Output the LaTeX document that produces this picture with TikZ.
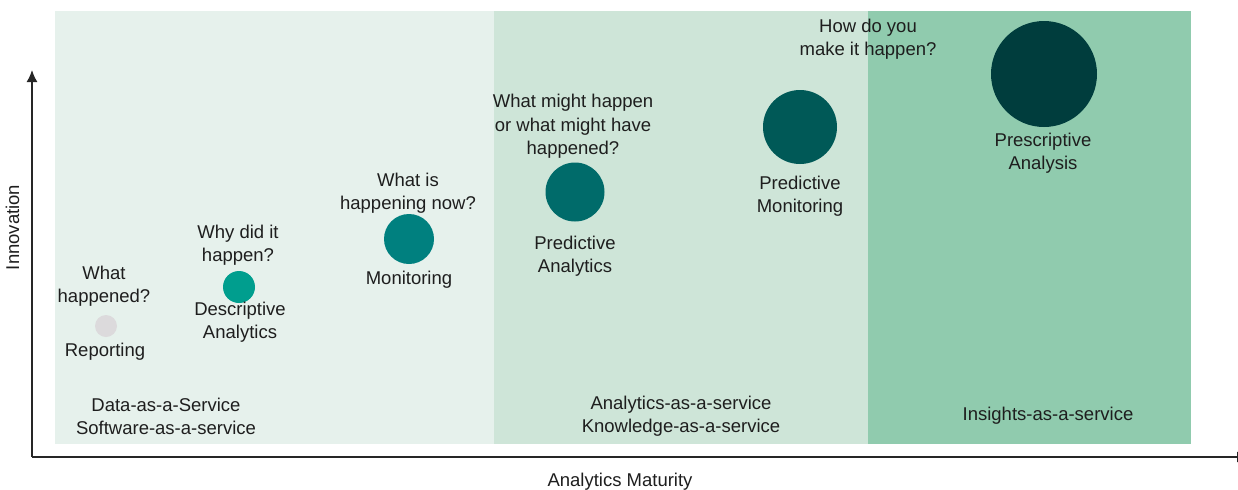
\documentclass[tikz,border=0pt]{standalone}
\usepackage{fontspec}
\setmainfont{Liberation Sans}
\usetikzlibrary{arrows.meta}
\usepackage{xcolor}

\definecolor{bandA}{RGB}{230,241,236}
\definecolor{bandB}{RGB}{206,229,216}
\definecolor{bandC}{RGB}{144,203,174}
\definecolor{dotA}{RGB}{220,218,220}
\definecolor{dotB}{RGB}{0,158,142}
\definecolor{dotC}{RGB}{0,128,127}
\definecolor{dotD}{RGB}{0,107,106}
\definecolor{dotE}{RGB}{0,89,87}
\definecolor{dotF}{RGB}{0,61,61}
\definecolor{txt}{RGB}{30,30,30}

\tikzset{
  bubble/.style={circle, inner sep=0pt},
  lbl/.style={align=center, text=txt, inner sep=0pt, yshift=-1.2pt,
    font=\fontsize{9.25}{11.8}\selectfont},
}

\begin{document}
\begin{tikzpicture}[x=0.5pt, y=-0.5pt]
    \useasboundingbox (0,0) rectangle (1238,489);
    \clip (0,0) rectangle (1238,489);

    % bands
    \fill[bandA] (55,11) rectangle (494,444);
    \fill[bandB] (494,11) rectangle (868,444);
    \fill[bandC] (868,11) rectangle (1191,444);

    % axis
    \coordinate (o) at (32,457);
    \coordinate (ytop) at (32,70);
    \coordinate (xend) at (1249,457);
    \draw[-{Latex[length=6pt,width=5.5pt]}, line width=0.75pt, black!85] (o) -- (ytop);
    \draw[-{Latex[length=6pt,width=5.5pt]}, line width=0.75pt, black!85] (o) -- (xend);
    \node[lbl, rotate=90, yshift=1.2pt] (yname) at (15,225) {Innovation};
    \node[lbl] (xname) at (620,479) {Analytics Maturity};

    % bubbles
    \node[bubble, fill=dotA, minimum size=11pt] (rep) at (106,326) {};
    \node[bubble, fill=dotB, minimum size=16pt] (desc) at (239,287) {};
    \node[bubble, fill=dotC, minimum size=25pt] (mon) at (409,239) {};
    \node[bubble, fill=dotD, minimum size=29.5pt] (pana) at (575,192) {};
    \node[bubble, fill=dotE, minimum size=37pt] (pmon) at (800,127) {};
    \node[bubble, fill=dotF, minimum size=53pt] (presc) at (1044,74) {};

    % questions
    \node[lbl] (q1) at (104,284) {What\\happened?};
    \node[lbl] (q2) at (238,243) {Why did it\\happen?};
    \node[lbl] (q3) at (408,191) {What is\\happening now?};
    \node[lbl] (q4) at (573,124) {What might happen\\or what might have\\happened?};
    \node[lbl] (q5) at (868,37) {How do you\\make it happen?};

    % names
    \node[lbl] (n1) at (105,349) {Reporting};
    \node[lbl] (n2) at (240,320) {Descriptive\\Analytics};
    \node[lbl] (n3) at (409,277) {Monitoring};
    \node[lbl] (n4) at (575,254) {Predictive\\Analytics};
    \node[lbl] (n5) at (800,194) {Predictive\\Monitoring};
    \node[lbl] (n6) at (1043,151) {Prescriptive\\Analysis};

    % service levels
    \node[lbl] (s1) at (166,414) {Data-as-a-Service\\Software-as-a-service};
    \node[lbl] (s2) at (681,414) {Analytics-as-a-service\\Knowledge-as-a-service};
    \node[lbl] (s3) at (1048,413) {Insights-as-a-service};

\end{tikzpicture}
\end{document}
